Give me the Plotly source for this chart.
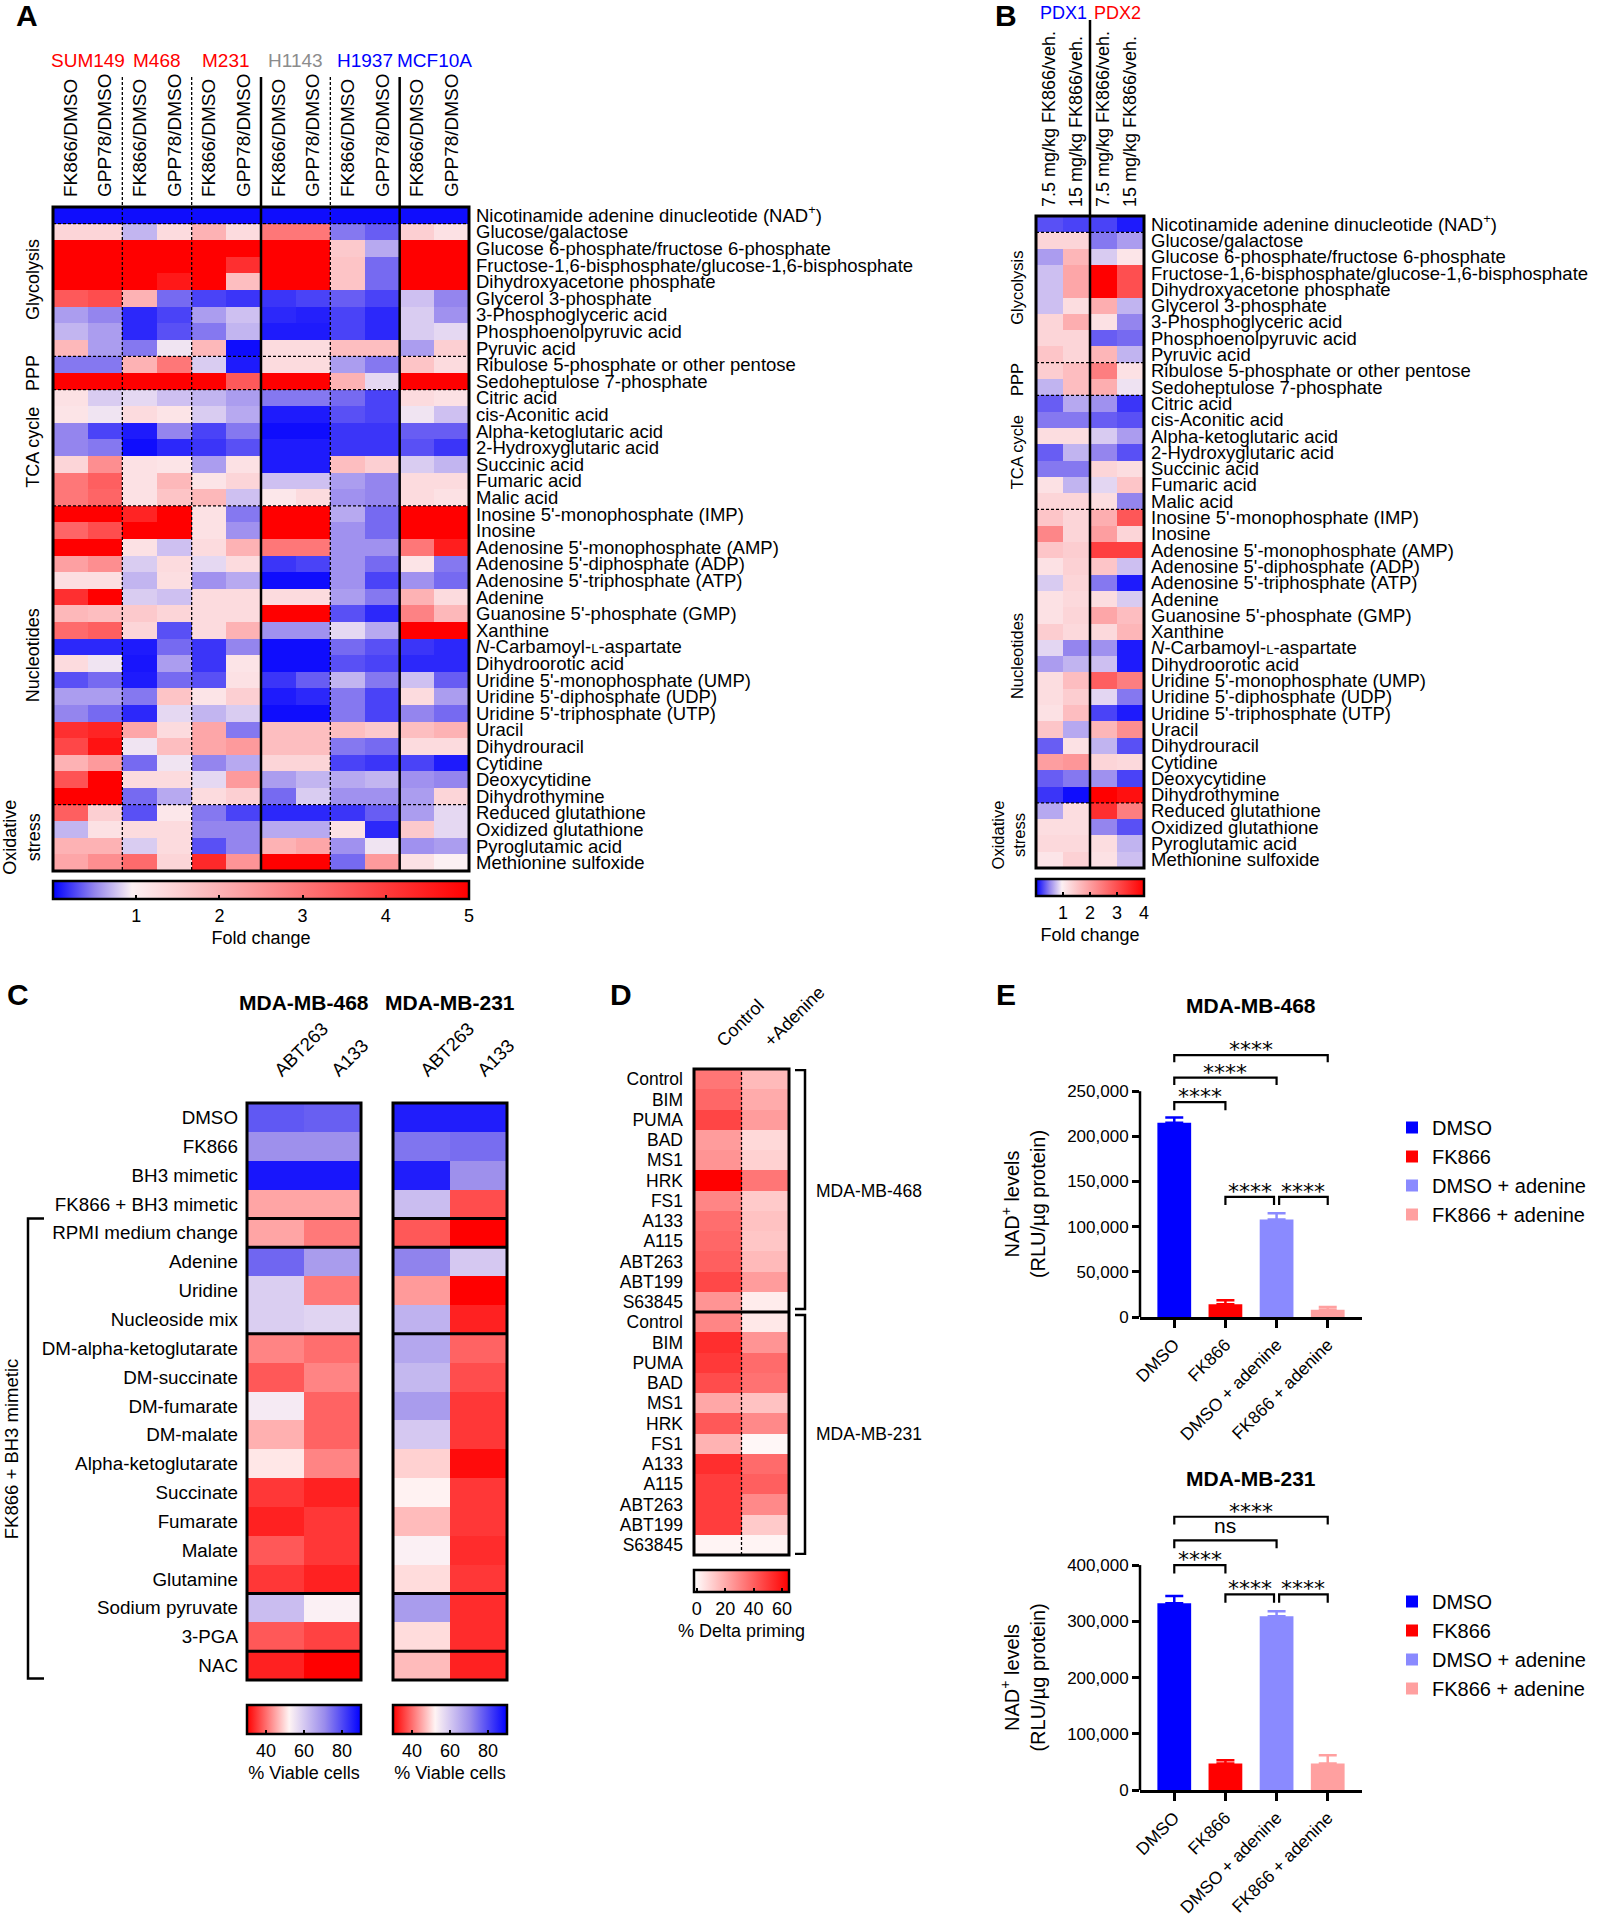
import plotly.graph_objects as go

W, H = 1604, 1920
FONT = "Liberation Sans, Arial, Helvetica, sans-serif"

# ---------------- data ----------------
metabolites = [
    "Nicotinamide adenine dinucleotide (NAD<sup>+</sup>)",
    "Glucose/galactose",
    "Glucose 6-phosphate/fructose 6-phosphate",
    "Fructose-1,6-bisphosphate/glucose-1,6-bisphosphate",
    "Dihydroxyacetone phosphate",
    "Glycerol 3-phosphate",
    "3-Phosphoglyceric acid",
    "Phosphoenolpyruvic acid",
    "Pyruvic acid",
    "Ribulose 5-phosphate or other pentose",
    "Sedoheptulose 7-phosphate",
    "Citric acid",
    "cis-Aconitic acid",
    "Alpha-ketoglutaric acid",
    "2-Hydroxyglutaric acid",
    "Succinic acid",
    "Fumaric acid",
    "Malic acid",
    "Inosine 5'-monophosphate (IMP)",
    "Inosine",
    "Adenosine 5'-monophosphate (AMP)",
    "Adenosine 5'-diphosphate (ADP)",
    "Adenosine 5'-triphosphate (ATP)",
    "Adenine",
    "Guanosine 5'-phosphate (GMP)",
    "Xanthine",
    "<i>N</i>-Carbamoyl-<span style='font-size:13px'>L</span>-aspartate",
    "Dihydroorotic acid",
    "Uridine 5'-monophosphate (UMP)",
    "Uridine 5'-diphosphate (UDP)",
    "Uridine 5'-triphosphate (UTP)",
    "Uracil",
    "Dihydrouracil",
    "Cytidine",
    "Deoxycytidine",
    "Dihydrothymine",
    "Reduced glutathione",
    "Oxidized glutathione",
    "Pyroglutamic acid",
    "Methionine sulfoxide",
]

# pathway label, first row, last row
pathways = [
    ("Glycolysis", 1, 8),
    ("PPP", 9, 10),
    ("TCA cycle", 11, 17),
    ("Nucleotides", 18, 35),
    ("Oxidative<br>stress", 36, 39),
]
pathway_breaks = [0.5, 8.5, 10.5, 17.5, 35.5]

cell_lines_a = ["SUM149", "M468", "M231", "H1143", "H1937", "MCF10A"]
cell_colors_a = ["#ff0000", "#ff0000", "#ff0000", "#8c8c8c", "#0000ff", "#0000ff"]
ratios_a = ["FK866/DMSO", "GPP78/DMSO"] * 6

fold_a = [
    [0.05, 0.05, 0.05, 0.05, 0.05, 0.05, 0.05, 0.05, 0.05, 0.05, 0.05, 0.05],
    [1.4, 1.4, 0.7, 1.3, 2.0, 1.3, 3.0, 3.0, 0.45, 0.35, 1.5, 1.2],
    [5, 5, 5, 5, 5, 5, 5, 5, 1.6, 0.65, 5, 5],
    [5, 5, 5, 5, 5, 4.2, 5, 5, 1.7, 0.4, 5, 5],
    [5, 5, 5, 4.6, 5, 1.8, 5, 5, 1.7, 0.4, 5, 5],
    [3.5, 3.7, 2.0, 0.4, 0.25, 0.2, 0.2, 0.25, 0.35, 0.25, 0.75, 0.5],
    [0.6, 0.5, 0.15, 0.25, 0.6, 0.75, 0.15, 0.12, 0.25, 0.15, 0.8, 0.55],
    [0.7, 0.6, 0.15, 0.3, 0.45, 0.7, 0.1, 0.1, 0.25, 0.15, 0.8, 0.85],
    [1.9, 0.6, 0.45, 0.9, 1.9, 0.05, 1.3, 1.3, 1.8, 1.8, 0.6, 1.5],
    [0.45, 0.45, 2.0, 3.0, 0.8, 0.1, 1.3, 1.3, 0.6, 0.45, 1.7, 1.3],
    [5, 5, 5, 5, 5, 3.5, 5, 5, 2.0, 0.85, 5, 5],
    [1.2, 0.8, 0.85, 0.75, 0.7, 0.6, 0.45, 0.45, 0.4, 0.25, 1.3, 1.2],
    [1.15, 0.9, 1.3, 1.15, 0.8, 0.65, 0.1, 0.1, 0.3, 0.25, 0.9, 0.75],
    [0.5, 0.25, 0.1, 0.5, 0.25, 0.45, 0.05, 0.05, 0.2, 0.2, 0.35, 0.35],
    [0.5, 0.45, 0.05, 0.15, 0.2, 0.3, 0.1, 0.1, 0.2, 0.2, 0.3, 0.2],
    [1.4, 2.6, 1.2, 1.15, 0.6, 1.2, 0.1, 0.1, 1.8, 1.5, 0.8, 0.7],
    [3.0, 3.4, 1.2, 1.9, 1.15, 1.4, 0.75, 0.75, 0.6, 0.5, 1.3, 1.3],
    [3.0, 3.3, 1.2, 1.7, 1.9, 0.75, 1.1, 1.3, 0.55, 0.5, 1.3, 1.2],
    [5, 5, 4.4, 5, 1.2, 0.45, 5, 5, 0.65, 0.4, 5, 5],
    [3.3, 3.7, 5, 5, 1.2, 0.55, 5, 5, 0.55, 0.4, 5, 5],
    [5, 5, 1.2, 0.75, 1.3, 2.0, 3.0, 3.0, 0.55, 0.55, 3.0, 4.5],
    [2.3, 2.6, 0.8, 1.3, 0.85, 1.3, 0.2, 0.25, 0.55, 0.4, 1.15, 0.45],
    [1.25, 1.25, 0.7, 1.25, 0.55, 0.65, 0.05, 0.05, 0.55, 0.25, 0.55, 0.4],
    [4.2, 5, 0.8, 0.75, 1.3, 1.3, 1.3, 1.3, 0.6, 0.45, 2.0, 1.3],
    [1.9, 1.8, 1.6, 1.4, 1.3, 1.3, 5, 5, 0.3, 0.15, 2.8, 1.9],
    [3.2, 3.4, 1.4, 0.3, 1.3, 2.0, 0.55, 0.55, 0.85, 0.65, 5, 5],
    [0.15, 0.15, 0.1, 0.4, 0.2, 0.5, 0.05, 0.05, 0.4, 0.3, 0.2, 0.15],
    [1.3, 0.9, 0.08, 0.6, 0.2, 1.15, 0.05, 0.05, 0.3, 0.25, 0.15, 0.15],
    [0.3, 0.4, 0.1, 0.4, 0.3, 1.2, 0.2, 0.35, 0.7, 0.45, 0.75, 0.35],
    [0.6, 0.6, 0.45, 1.7, 1.15, 1.5, 0.1, 0.15, 0.45, 0.25, 1.3, 0.6],
    [0.5, 0.4, 0.15, 0.85, 0.7, 0.8, 0.05, 0.05, 0.45, 0.25, 0.5, 0.4],
    [4.2, 4.4, 2.2, 1.3, 2.2, 0.45, 1.8, 1.8, 1.8, 1.6, 1.8, 2.0],
    [3.8, 4.7, 0.9, 1.8, 2.2, 2.4, 1.8, 1.8, 0.45, 0.4, 1.3, 1.3],
    [2.0, 2.4, 0.4, 0.9, 0.5, 0.65, 1.4, 1.4, 0.25, 0.2, 0.25, 0.1],
    [3.6, 5, 1.3, 1.3, 0.85, 2.4, 0.6, 0.7, 0.65, 0.7, 0.55, 0.5],
    [5, 5, 0.4, 0.65, 1.3, 1.5, 0.4, 0.8, 0.55, 0.55, 0.6, 1.4],
    [3.4, 1.5, 0.3, 1.1, 0.45, 0.25, 0.15, 0.15, 0.2, 0.35, 0.6, 0.85],
    [0.7, 1.2, 1.3, 1.3, 0.5, 0.5, 0.65, 0.65, 1.2, 0.15, 1.6, 0.85],
    [2.0, 2.0, 0.8, 1.3, 0.3, 0.5, 2.0, 2.2, 0.55, 0.9, 0.55, 0.6],
    [2.2, 2.6, 3.2, 1.4, 4.3, 2.5, 5, 5, 0.4, 2.4, 1.2, 0.95],
]

pdx_names = ["PDX1", "PDX2"]
pdx_colors = ["#0000ff", "#ff0000"]
doses_b = ["7.5 mg/kg FK866/veh.", "15 mg/kg FK866/veh."] * 2

fold_b = [
    [0.3, 0.25, 0.25, 0.1],
    [1.3, 1.3, 0.45, 0.6],
    [0.6, 1.7, 0.8, 1.1],
    [0.75, 1.9, 4.0, 3.0],
    [0.75, 1.9, 4.0, 3.0],
    [0.75, 1.2, 1.8, 0.7],
    [1.3, 1.8, 1.15, 0.5],
    [1.3, 1.3, 0.35, 0.4],
    [1.5, 1.3, 1.7, 0.7],
    [1.4, 1.6, 2.4, 1.15],
    [0.7, 1.6, 1.8, 0.9],
    [0.35, 0.65, 0.55, 0.2],
    [0.45, 0.45, 0.35, 0.3],
    [1.2, 1.2, 0.8, 0.6],
    [0.35, 0.7, 0.5, 0.3],
    [0.45, 0.45, 1.3, 1.2],
    [1.15, 0.7, 0.85, 1.5],
    [1.3, 1.3, 1.2, 0.5],
    [1.5, 1.3, 1.8, 2.9],
    [2.3, 1.3, 2.0, 1.3],
    [1.5, 1.4, 3.2, 3.2],
    [1.15, 1.35, 1.5, 0.75],
    [0.8, 1.3, 0.45, 0.1],
    [1.15, 1.25, 1.2, 0.8],
    [1.15, 1.3, 1.9, 1.6],
    [1.4, 1.25, 1.25, 1.7],
    [0.85, 0.5, 0.55, 0.1],
    [0.6, 0.7, 0.75, 0.1],
    [1.2, 1.6, 2.8, 2.4],
    [1.2, 1.4, 0.85, 0.45],
    [1.15, 1.6, 0.25, 0.1],
    [1.5, 0.65, 1.7, 2.2],
    [0.35, 1.15, 0.7, 0.3],
    [2.0, 2.1, 1.3, 1.25],
    [0.35, 0.45, 0.55, 0.25],
    [0.2, 0.05, 4.0, 3.8],
    [0.65, 1.2, 3.4, 2.4],
    [1.2, 1.2, 0.5, 0.3],
    [1.25, 1.25, 1.2, 0.7],
    [1.1, 1.35, 1.15, 0.75],
]

c_conditions = [
    "DMSO", "FK866", "BH3 mimetic", "FK866 + BH3 mimetic", "RPMI medium change",
    "Adenine", "Uridine", "Nucleoside mix", "DM-alpha-ketoglutarate", "DM-succinate",
    "DM-fumarate", "DM-malate", "Alpha-ketoglutarate", "Succinate", "Fumarate",
    "Malate", "Glutamine", "Sodium pyruvate", "3-PGA", "NAC",
]
c_drugs = ["ABT263", "A133"]
c_breaks = [3.5, 4.5, 7.5, 16.5, 18.5]
viable_468 = [
    [78, 77], [70, 70], [87, 87], [45, 45], [45, 41], [76, 68], [59, 41], [59, 58],
    [42, 40], [38, 42], [54, 39], [46, 39], [51, 42], [35, 33], [33, 35], [38, 35],
    [35, 33], [62, 53], [38, 36], [33, 30],
]
viable_231 = [
    [86, 86], [74, 75], [86, 70], [62, 37], [38, 30], [72, 60], [44, 30], [64, 33],
    [66, 39], [63, 37], [68, 35], [60, 35], [49, 31], [52, 35], [47, 35], [53, 34],
    [50, 35], [68, 34], [50, 34], [47, 33],
]

d_peptides = ["Control", "BIM", "PUMA", "BAD", "MS1", "HRK", "FS1", "A133",
              "A115", "ABT263", "ABT199", "S63845"]
d_cols = ["Control", "+Adenine"]
priming_468 = [[34, 16], [38, 20], [47, 24], [24, 8], [26, 10], [65, 34],
               [30, 12], [36, 14], [38, 13], [40, 16], [46, 24], [26, 3]]
priming_231 = [[30, 4], [53, 26], [50, 37], [45, 35], [21, 14], [42, 29],
               [18, 0], [53, 37], [49, 40], [49, 29], [49, 12], [1, 1]]

e_groups = ["DMSO", "FK866", "DMSO + adenine", "FK866 + adenine"]
e_colors = ["#0000ff", "#ff0000", "#8a8aff", "#ffa0a0"]
nad_468 = [215000, 14000, 108000, 8000]
nad_468_err = [6000, 4500, 7000, 3000]
nad_231 = [332000, 47000, 309000, 47000]
nad_231_err = [13000, 6000, 9000, 15000]
# (left group, right group, bracket level, hook end, label)
sig_468 = [(0, 1, 238000, 229000, "****"), (0, 2, 265000, 257000, "****"),
           (0, 3, 290000, 282000, "****"), (1, 1.95, 133000, 124000, "****"),
           (2.05, 3, 133000, 124000, "****")]
sig_231 = [(0, 1, 400000, 385000, "****"), (0, 2, 444000, 430000, "ns"),
           (0, 3, 486000, 472000, "****"), (1, 1.95, 348000, 333000, "****"),
           (2.05, 3, 348000, 333000, "****")]


# ---------------- helpers ----------------
def px(x):
    return x / W


def py(y):
    return 1 - y / H


def dom_x(a, b):
    return [a / W, b / W]


def dom_y(a, b):
    return [1 - b / H, 1 - a / H]


def cbar(x0, x1, ytop, thick, tickvals, title):
    return dict(
        orientation="h", x=(x0 + x1) / 2 / W, xanchor="center", y=py(ytop), yanchor="top",
        len=x1 - x0, lenmode="pixels", thickness=thick, thicknessmode="pixels",
        outlinewidth=2.5, outlinecolor="black", xpad=0, ypad=0,
        tickmode="array", tickvals=tickvals, ticks="inside", ticklen=5, tickwidth=2,
        tickcolor="black", tickfont=dict(size=18, color="black"),
        title=dict(text=title, side="bottom", font=dict(size=18, color="black")),
    )


def heat_x(dom, n, labels, angle, anchor, font=18, standoff=8, show=True):
    return dict(domain=dom, range=[-0.5, n - 0.5], side="top", anchor=anchor,
                tickmode="array", tickvals=list(range(n)), ticktext=labels,
                tickangle=angle, tickfont=dict(size=font), showticklabels=show,
                showgrid=False, zeroline=False, showline=False, ticks="",
                ticklabelstandoff=standoff)


def heat_y(dom, n, labels, side, anchor, font=16, standoff=6, show=True):
    return dict(domain=dom, range=[n - 0.5, -0.5], side=side, anchor=anchor,
                tickmode="array", tickvals=list(range(n)), ticktext=labels,
                tickfont=dict(size=font), showticklabels=show,
                showgrid=False, zeroline=False, showline=False, ticks="",
                ticklabelstandoff=standoff)


shapes = []
annotations = []


def border(xa, ya, width=3):
    shapes.append(dict(type="rect", xref=f"{xa} domain", yref=f"{ya} domain",
                       x0=0, x1=1, y0=0, y1=1, line=dict(color="black", width=width)))


def hsep(xa, ya, y, width=1.3, dash="3px,2px"):
    shapes.append(dict(type="line", xref=f"{xa} domain", x0=0, x1=1, yref=ya, y0=y, y1=y,
                       line=dict(color="black", width=width, dash=dash)))


def label(text, x, y, size=18, xref="paper", yref="paper", color="black", family=None, **kw):
    kw.setdefault("xanchor", "center")
    kw.setdefault("yanchor", "middle")
    font = dict(size=size, color=color)
    if family:
        font["family"] = family
    annotations.append(dict(text=text, x=x, y=y, xref=xref, yref=yref, showarrow=False,
                            font=font, **kw))


fold_scale_a = [[0, "#0000ff"], [0.1, "#9485ee"], [0.19, "#fcf0f3"], [1, "#ff0000"]]
fold_scale_b = [[0, "#0000ff"], [0.125, "#9485ee"], [0.24, "#fcf0f3"], [1, "#ff0000"]]
viable_scale = [[0, "#ff0000"], [0.37, "#fff4f4"], [0.68, "#9a8cec"], [1, "#0000ff"]]
priming_scale = [[0, "#ffffff"], [1, "#ff0000"]]

fig = go.Figure()

# ---------------- Panel A ----------------
fig.add_trace(go.Heatmap(
    z=fold_a, x=list(range(12)), y=list(range(40)), xaxis="x", yaxis="y",
    colorscale=fold_scale_a, zmin=0, zmax=5,
    colorbar=cbar(53, 469, 881, 18, [1, 2, 3, 4, 5], "Fold change"),
))
for i, (name, col) in enumerate(zip(cell_lines_a, cell_colors_a)):
    label(name, 2 * i + 0.5, py(61), size=19, xref="x", color=col)
for xs, dash, w in [(1.5, "3px,2px", 1.3), (3.5, "3px,2px", 1.3), (7.5, "3px,2px", 1.3),
                    (5.5, "solid", 2.5), (9.5, "solid", 2.5)]:
    shapes.append(dict(type="line", xref="x", x0=xs, x1=xs, yref="paper", y0=py(77), y1=py(871),
                       line=dict(color="black", width=w, dash=dash)))
for yb in pathway_breaks:
    hsep("x", "y", yb)
border("x", "y")
for name, r0, r1 in pathways:
    yc = (r0 + r1) / 2 - (0.6 if name == "Glycolysis" else 0)
    xc = 22 if "<br>" in name else 33
    label(name, px(xc), yc, size=18, yref="y", textangle=-90)

# ---------------- Panel B ----------------
fig.add_trace(go.Heatmap(
    z=fold_b, x=list(range(4)), y=list(range(40)), xaxis="x2", yaxis="y2",
    colorscale=fold_scale_b, zmin=0, zmax=4,
    colorbar=cbar(1036, 1144, 879, 17, [1, 2, 3, 4], "Fold change"),
))
for i, (name, col) in enumerate(zip(pdx_names, pdx_colors)):
    label(name, 2 * i + 0.5, py(13), size=18, xref="x2", color=col)
shapes.append(dict(type="line", xref="x2", x0=1.5, x1=1.5, yref="paper", y0=py(20), y1=py(868),
                   line=dict(color="black", width=2.5)))
for yb in pathway_breaks:
    hsep("x2", "y2", yb)
border("x2", "y2")
for name, r0, r1 in pathways:
    yc = (r0 + r1) / 2 - (0.6 if name == "Glycolysis" else 0)
    xc = 1008 if "<br>" in name else 1017
    label(name, px(xc), yc, size=16.5, yref="y2", textangle=-90)

# ---------------- Panel C ----------------
fig.add_trace(go.Heatmap(
    z=viable_468, x=list(range(2)), y=list(range(20)), xaxis="x3", yaxis="y3",
    colorscale=viable_scale, zmin=30, zmax=90,
    colorbar=cbar(247, 361, 1705, 29, [40, 60, 80], "% Viable cells"),
))
fig.add_trace(go.Heatmap(
    z=viable_231, x=list(range(2)), y=list(range(20)), xaxis="x4", yaxis="y4",
    colorscale=viable_scale, zmin=30, zmax=90,
    colorbar=cbar(393, 507, 1705, 29, [40, 60, 80], "% Viable cells"),
))
for xa, ya in [("x3", "y3"), ("x4", "y4")]:
    for yb in c_breaks:
        hsep(xa, ya, yb, width=3, dash="solid")
    border(xa, ya)
label("<b>MDA-MB-468</b>", 0.5, py(1003), size=21, xref="x3 domain")
label("<b>MDA-MB-231</b>", 0.5, py(1003), size=21, xref="x4 domain")
shapes.append(dict(type="path", xref="paper", yref="y3",
                   path=f"M {px(44)},3.5 L {px(28)},3.5 L {px(28)},19.45 L {px(44)},19.45",
                   line=dict(color="black", width=2.5)))
label("FK866 + BH3 mimetic", px(11), 11.5, size=18.5, yref="y3", textangle=-90)

# ---------------- Panel D ----------------
priming = priming_468 + priming_231
fig.add_trace(go.Heatmap(
    z=priming, x=list(range(2)), y=list(range(24)), xaxis="x5", yaxis="y5",
    colorscale=priming_scale, zmin=-2, zmax=65,
    colorbar=cbar(694, 789, 1570, 22, [0, 20, 40, 60], "% Delta priming"),
))
shapes.append(dict(type="line", xref="x5", x0=0.5, x1=0.5, yref="y5 domain", y0=0, y1=1,
                   line=dict(color="black", width=1.3, dash="3px,2px")))
hsep("x5", "y5", 11.5, width=3, dash="solid")
border("x5", "y5")
for y0, y1, yc, name in [(-0.45, 11.35, 5.5, "MDA-MB-468"), (11.65, 23.45, 17.5, "MDA-MB-231")]:
    shapes.append(dict(type="path", xref="paper", yref="y5",
                       path=f"M {px(795)},{y0} L {px(805)},{y0} L {px(805)},{y1} L {px(795)},{y1}",
                       line=dict(color="black", width=2.5)))
    label(name, px(814), yc, size=17.5, yref="y5", xanchor="left")

# ---------------- Panel E ----------------
for i, (grp, col) in enumerate(zip(e_groups, e_colors)):
    for vals, errs, xa, ya, lg in [(nad_468, nad_468_err, "x6", "y6", "legend"),
                                   (nad_231, nad_231_err, "x7", "y7", "legend2")]:
        fig.add_trace(go.Bar(
            x=[i], y=[vals[i]], width=0.66, name=grp, xaxis=xa, yaxis=ya, legend=lg,
            marker=dict(color=col, line=dict(width=0)),
            error_y=dict(type="data", array=[errs[i]], arrayminus=[0], symmetric=False,
                         color=col, thickness=2.5, width=9),
        ))

for sig, xa, ya, top in [(sig_468, "x6", "y6", 250000), (sig_231, "x7", "y7", 400000)]:
    shapes.append(dict(type="line", xref=f"{xa} domain", x0=0, x1=0, yref=ya, y0=0, y1=top,
                       line=dict(color="black", width=2.5)))
    for x0, x1, yb, yh, txt in sig:
        shapes.append(dict(type="path", xref=xa, yref=ya,
                           path=f"M {x0},{yh} L {x0},{yb} L {x1},{yb} L {x1},{yh}",
                           line=dict(color="black", width=2.2)))
        if txt == "ns":
            label(txt, (x0 + x1) / 2, yb, size=21, xref=xa, yref=ya, yanchor="bottom", yshift=1)
        else:
            label(txt, (x0 + x1) / 2, yb, size=22, xref=xa, yref=ya, yanchor="bottom",
                  yshift=-9, family="DejaVu Sans, sans-serif")

label("<b>MDA-MB-468</b>", 0.5, py(1005), size=21, xref="x6 domain")
label("<b>MDA-MB-231</b>", 0.5, py(1478), size=21, xref="x7 domain")
label("NAD<sup>+</sup> levels<br>(RLU/µg protein)", px(1023), 125000, size=20, yref="y6",
      textangle=-90)
label("NAD<sup>+</sup> levels<br>(RLU/µg protein)", px(1023), 200000, size=20, yref="y7",
      textangle=-90)

# panel letters
for letter, x, y in [("A", 27, 16), ("B", 1006, 16), ("C", 18, 995), ("D", 621, 995), ("E", 1006, 995)]:
    label(f"<b>{letter}</b>", px(x), py(y), size=30)


def bar_x(dom, anchor):
    return dict(domain=dom, anchor=anchor, range=[-0.67, 3.67], tickmode="array",
                tickvals=list(range(4)), ticktext=e_groups, tickangle=-45,
                tickfont=dict(size=17.5), showline=True, linewidth=2.5, linecolor="black",
                ticks="outside", ticklen=8, tickwidth=2.5, tickcolor="black",
                showgrid=False, zeroline=False)


def bar_y(dom, anchor, rng, tickvals):
    return dict(domain=dom, anchor=anchor, range=rng, tickmode="array", tickvals=tickvals,
                tickformat=",d", tickfont=dict(size=17), showline=False,
                ticks="outside", ticklen=7, tickwidth=2.5, tickcolor="black",
                showgrid=False, zeroline=False)


legend_style = dict(xanchor="left", yanchor="top", font=dict(size=20), bgcolor="rgba(0,0,0,0)",
                    tracegroupgap=0, itemwidth=30)

fig.update_layout(
    width=W, height=H, margin=dict(l=0, r=0, t=0, b=0),
    template="none", paper_bgcolor="white", plot_bgcolor="white",
    font=dict(family=FONT, color="black"),
    barmode="overlay", showlegend=True,
    xaxis=heat_x(dom_x(53, 469), 12, ratios_a, -90, "y", font=19, standoff=9),
    yaxis=heat_y(dom_y(207, 871), 40, metabolites, "right", "x", font=18.5, standoff=6),
    xaxis2=heat_x(dom_x(1036, 1144), 4, doses_b, -90, "y2", font=18, standoff=8),
    yaxis2=heat_y(dom_y(216, 868), 40, metabolites, "right", "x2", font=18.5, standoff=6),
    xaxis3=heat_x(dom_x(247, 361), 2, c_drugs, -45, "y3", font=18.5, standoff=18),
    yaxis3=heat_y(dom_y(1103, 1680), 20, c_conditions, "left", "x3", font=18.8, standoff=8),
    xaxis4=heat_x(dom_x(393, 507), 2, c_drugs, -45, "y4", font=18.5, standoff=18),
    yaxis4=heat_y(dom_y(1103, 1680), 20, c_conditions, "left", "x4", show=False),
    xaxis5=heat_x(dom_x(694, 789), 2, d_cols, -45, "y5", font=18, standoff=14),
    yaxis5=heat_y(dom_y(1069, 1555), 24, d_peptides * 2, "left", "x5", font=17.5, standoff=10),
    xaxis6=bar_x(dom_x(1140, 1362), "y6"),
    yaxis6=bar_y(dom_y(1028, 1317), "x6", [0, 320000], [0, 50000, 100000, 150000, 200000, 250000]),
    xaxis7=bar_x(dom_x(1140, 1362), "y7"),
    yaxis7=bar_y(dom_y(1492, 1790), "x7", [0, 530000], [0, 100000, 200000, 300000, 400000]),
    legend=dict(x=px(1392), y=py(1108), **legend_style),
    legend2=dict(x=px(1392), y=py(1582), **legend_style),
    shapes=shapes,
    annotations=annotations,
)

# page body has a default 8px margin; remove it so the figure sits at the window origin
fig.write_html("out.html", config={"displayModeBar": False},
               post_script="document.body.style.margin='0px';")
